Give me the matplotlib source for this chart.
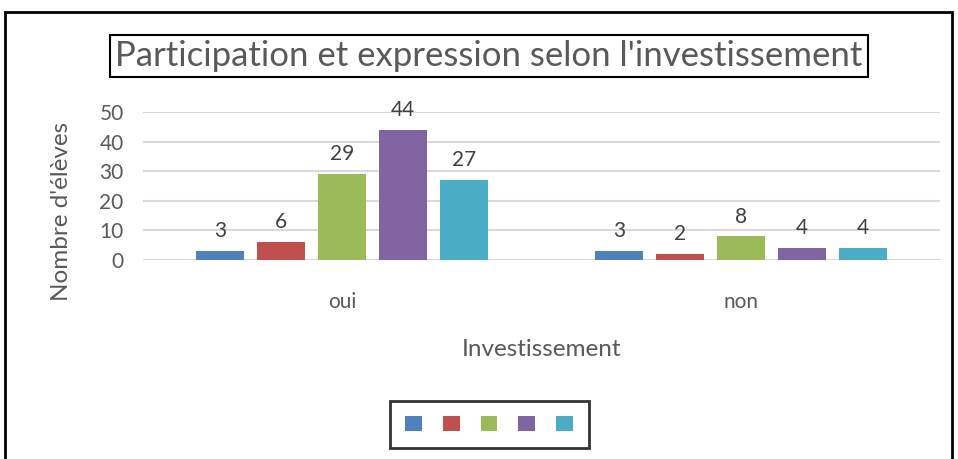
import matplotlib
matplotlib.use("Agg")
import matplotlib.pyplot as plt
import numpy as np
from matplotlib.patches import Rectangle

categories = ["oui", "non"]
series_values = [
    [3, 3],
    [6, 2],
    [29, 8],
    [44, 4],
    [27, 4],
]
colors = ["#4F81BD", "#C0504D", "#9BBB59", "#8064A2", "#4BACC6"]
yticks = [0, 10, 20, 30, 40, 50]
title = "Participation et expression selon l'investissement"
xlabel = "Investissement"
ylabel = "Nombre d'élèves"

plt.rcParams['font.family'] = ['Lato', 'DejaVu Sans']
W, H = 958, 459
fig = plt.figure(figsize=(W / 100, H / 100), dpi=100)

ax_l, ax_r, ax_t, ax_b = 143, 940, 112, 260
ax = fig.add_axes([ax_l / W, 1 - ax_b / H, (ax_r - ax_l) / W, (ax_b - ax_t) / H])
x = np.arange(len(categories))
step = 61 / 399
width = 48 / 399
n = len(series_values)
bars = []
for i, vals in enumerate(series_values):
    pos = x + (i - (n - 1) / 2) * step
    b = ax.bar(pos, vals, width=width, color=colors[i], zorder=3)
    bars.append(b)
    for p, v in zip(pos, vals):
        ax.text(p, v + 3.3, str(v), ha='center', va='bottom', fontsize=15, color='#404040')

ax.set_xlim(-0.5, len(categories) - 0.5)
ax.set_ylim(0, 50)
ax.set_yticks(yticks)
ax.set_xticks(x)
ax.set_xticklabels(categories)
ax.tick_params(axis='both', length=0, labelsize=15, labelcolor='#595959')
ax.tick_params(axis='x', pad=23, labelsize=15)
ax.tick_params(axis='y', pad=14)
ax.grid(axis='y', color='#D9D9D9', linewidth=1.5, zorder=0)
for s in ax.spines.values():
    s.set_visible(False)
ax.set_xlabel(xlabel, fontsize=17.5, color='#595959')
ax.set_ylabel(ylabel, fontsize=17.5, color='#595959')
ax.xaxis.set_label_coords(0.5, -(350 - ax_b) / (ax_b - ax_t))
ax.xaxis.label.set_va('center')
ax.yaxis.set_label_coords(-(ax_l - 61) / (ax_r - ax_l), (ax_b - 211) / (ax_b - ax_t))
ax.yaxis.label.set_va('center')

fig.text(489 / W, 1 - 56 / H, title, ha='center', va='center', fontsize=25, color='#595959',
         bbox=dict(boxstyle='square,pad=0.15', facecolor='white', edgecolor='black', linewidth=1.5))

leg = fig.legend([b[0] for b in bars], [''] * n, ncol=n, loc='center',
                 bbox_to_anchor=(489 / W, 1 - 424.5 / H), fontsize=12,
                 handlelength=1.0, handleheight=1.0, handletextpad=0.0,
                 columnspacing=1.26, borderpad=0.95, frameon=True, fancybox=False)
leg.get_frame().set_edgecolor('black')
leg.get_frame().set_linewidth(2)

fig.add_artist(Rectangle((5 / W, -0.05), (952 - 5) / W, 1 - 12 / H + 0.05, transform=fig.transFigure,
                         fill=False, edgecolor='black', linewidth=2))

fig.savefig("out.png", dpi=100)
